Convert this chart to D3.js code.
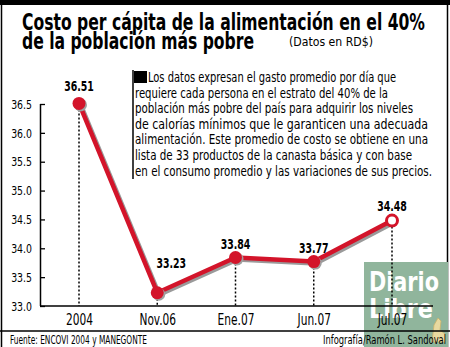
<!DOCTYPE html>
<html>
<head>
<meta charset="utf-8">
<script src="https://cdn.jsdelivr.net/npm/d3@7"></script>
<style>
  html, body { margin: 0; padding: 0; background: #fff; }
  svg { display: block; }
  text { font-family: "Liberation Sans Narrow", "DejaVu Sans Condensed", "Arial Narrow", sans-serif; }
</style>
</head>
<body>
<svg id="chart" width="450" height="347"></svg>
<script>
// ---- data ----
const categories = ["2004", "Nov.06", "Ene.07", "Jun.07", "Jul.07"];
const values = [36.51, 33.23, 33.84, 33.77, 34.48];
const valueLabels = ["36.51", "33.23", "33.84", "33.77", "34.48"];
const yTicks = [33.0, 33.5, 34.0, 34.5, 35.0, 35.5, 36.0, 36.5];
const titleLines = ["Costo per cápita de la alimentación en el 40%", "de la población más pobre"];
const subtitle = "(Datos en RD$)";
const noteLines = [
  "Los datos expresan el gasto promedio por día que",
  "requiere cada persona en el estrato del 40% de la",
  "población más pobre del país para adquirir los niveles",
  "de calorías mínimos que le garanticen una adecuada",
  "alimentación. Este promedio de costo se obtiene en una",
  "lista de 33 productos de la canasta básica y con base",
  "en el consumo promedio y las variaciones de sus precios."
];
const sourceText = "Fuente: ENCOVI 2004 y MANEGONTE";
const creditText = "Infografía/Ramón L. Sandoval";

// ---- layout (not data) ----
const labelOffsets = [[0, -12], [14, -25], [0, -9], [0, -9], [0, -10]];
const noteWidths = [248, 253, 278, 293, 293, 277, 297];

const svg = d3.select("#chart");
const W = 450, H = 347;
const red = "#d3142a";

function condense(sel, factor) {
  sel.each(function () {
    const len = this.getComputedTextLength();
    d3.select(this).attr("textLength", len * factor).attr("lengthAdjust", "spacingAndGlyphs");
  });
}

// frame
svg.append("rect").attr("x", 0).attr("y", 0).attr("width", W).attr("height", 5).attr("fill", "#000");
svg.append("line").attr("x1", 1.5).attr("x2", 1.5).attr("y1", 0).attr("y2", H).attr("stroke", "#000").attr("stroke-width", 1.5);
svg.append("line").attr("x1", 447.5).attr("x2", 447.5).attr("y1", 0).attr("y2", H).attr("stroke", "#000").attr("stroke-width", 1.5);

// title
svg.selectAll("text.title").data(titleLines).join("text")
  .attr("class", "title")
  .attr("x", 22)
  .attr("y", (d, i) => 30 + i * 19)
  .attr("font-size", 23).attr("font-weight", "bold").attr("fill", "#000")
  .attr("textLength", (d, i) => i === 0 ? 403 : 232)
  .attr("lengthAdjust", "spacingAndGlyphs")
  .text(d => d);
svg.append("text").attr("x", 289).attr("y", 46).attr("font-size", 11.5)
  .attr("textLength", 84).attr("lengthAdjust", "spacingAndGlyphs").text(subtitle);

// logo (drawn beneath chart)
const logo = svg.append("g");
logo.append("rect").attr("x", 364).attr("y", 262).attr("width", 84).attr("height", 85).attr("fill", "#90b59c");
logo.append("text").attr("x", 369).attr("y", 291).attr("font-size", 27).attr("font-weight", "bold")
  .attr("fill", "#fff").attr("textLength", 70).attr("lengthAdjust", "spacingAndGlyphs")
  .style("font-family", "'DejaVu Sans', sans-serif").text("Diario");
logo.append("text").attr("x", 369).attr("y", 318).attr("font-size", 27).attr("font-weight", "bold")
  .attr("fill", "#fff").attr("textLength", 64).attr("lengthAdjust", "spacingAndGlyphs")
  .style("font-family", "'DejaVu Sans', sans-serif").text("Libre");
logo.append("path").attr("d", "M432,342 L434,325 L438,318 L441,321 L440,330 L445,334 L445,342 Z")
  .attr("fill", "#e8d9a0").attr("stroke", "#c9b26a").attr("stroke-width", 0.8);

// scales
const x = d3.scalePoint().domain(categories).range([79, 392]);
const y = d3.scaleLinear().domain([33.0, 36.5]).range([306, 104]);

// axes
const yAxis = d3.axisLeft(y).tickValues(yTicks).tickSize(0).tickPadding(8).tickFormat(d3.format(".1f"));
const gy = svg.append("g").attr("transform", "translate(40,0)").call(yAxis);
gy.select(".domain").remove();
gy.selectAll("text").attr("font-size", 13).attr("fill", "#000")
  .style("font-family", "'Liberation Sans Narrow', 'DejaVu Sans Condensed', sans-serif");
condense(gy.selectAll("text"), 0.8);
gy.selectAll(".tick").append("line").attr("x1", 0).attr("x2", 5).attr("stroke", "#000").attr("stroke-width", 1.3);
svg.append("line").attr("x1", 40.5).attr("x2", 40.5).attr("y1", y(36.5)).attr("y2", y(33.0)).attr("stroke", "#000").attr("stroke-width", 1.5);
svg.append("line").attr("x1", 40).attr("x2", 433).attr("y1", y(33.0)).attr("y2", y(33.0)).attr("stroke", "#000").attr("stroke-width", 1.5);

const xAxis = d3.axisBottom(x).tickSize(0).tickPadding(8);
const gx = svg.append("g").attr("transform", `translate(0,${y(33.0)})`).call(xAxis);
gx.select(".domain").remove();
gx.selectAll("text").attr("font-size", 15.5).attr("fill", "#000")
  .style("font-family", "'Liberation Sans Narrow', 'DejaVu Sans Condensed', sans-serif");
condense(gx.selectAll("text"), 0.76);

// dotted drop lines
svg.selectAll("line.drop").data(values).join("line")
  .attr("class", "drop")
  .attr("x1", (d, i) => x(categories[i])).attr("x2", (d, i) => x(categories[i]))
  .attr("y1", d => y(d) + 6).attr("y2", y(33.0))
  .attr("stroke", "#000").attr("stroke-width", 1.5).attr("stroke-dasharray", "2,2");

// line with shadow
const pts = values.map((v, i) => [x(categories[i]), y(v)]);
const lineGen = d3.line();
svg.append("path").attr("d", lineGen(pts)).attr("transform", "translate(2,2)")
  .attr("fill", "none").attr("stroke", "#9a9a9a").attr("stroke-width", 4.5).attr("stroke-linejoin", "round");
svg.append("path").attr("d", lineGen(pts))
  .attr("fill", "none").attr("stroke", red).attr("stroke-width", 4.5).attr("stroke-linejoin", "round");

// markers
svg.selectAll("circle.shadow").data(values.slice(0, -1)).join("circle")
  .attr("class", "shadow")
  .attr("cx", (d, i) => x(categories[i]) + 1.5).attr("cy", d => y(d) + 1.5).attr("r", 6.5).attr("fill", "#a0a0a0");
svg.selectAll("circle.pt").data(values).join("circle")
  .attr("class", "pt")
  .attr("cx", (d, i) => x(categories[i])).attr("cy", d => y(d))
  .attr("r", (d, i) => i === values.length - 1 ? 5.5 : 6.5)
  .attr("fill", (d, i) => i === values.length - 1 ? "#fff" : red)
  .attr("stroke", red).attr("stroke-width", (d, i) => i === values.length - 1 ? 3 : 0);

// value labels
const vl = svg.selectAll("text.val").data(values).join("text")
  .attr("class", "val")
  .attr("x", (d, i) => x(categories[i]) + labelOffsets[i][0])
  .attr("y", (d, i) => y(d) + labelOffsets[i][1])
  .attr("text-anchor", "middle").attr("font-size", 14.5).attr("font-weight", "bold").attr("fill", "#000")
  .text((d, i) => valueLabels[i]);
condense(vl, 0.72);

// note box
svg.append("line").attr("x1", 133).attr("x2", 133).attr("y1", 70).attr("y2", 179).attr("stroke", "#000").attr("stroke-width", 1.5);
svg.append("rect").attr("x", 134).attr("y", 71).attr("width", 13).attr("height", 12).attr("fill", "#000");
svg.selectAll("text.note").data(noteLines).join("text")
  .attr("class", "note")
  .attr("x", (d, i) => i === 0 ? 148 : 135)
  .attr("y", (d, i) => 82 + i * 15.6)
  .attr("font-size", 14).attr("fill", "#000")
  .attr("textLength", (d, i) => noteWidths[i]).attr("lengthAdjust", "spacingAndGlyphs")
  .text(d => d);

// footer
svg.append("line").attr("x1", 0).attr("x2", W).attr("y1", 331).attr("y2", 331).attr("stroke", "#000").attr("stroke-width", 1.5);
svg.append("text").attr("x", 10).attr("y", 344).attr("font-size", 12)
  .attr("textLength", 137).attr("lengthAdjust", "spacingAndGlyphs").text(sourceText);
svg.append("text").attr("x", 323).attr("y", 344).attr("font-size", 12)
  .attr("textLength", 123).attr("lengthAdjust", "spacingAndGlyphs").text(creditText);
</script>
</body>
</html>
